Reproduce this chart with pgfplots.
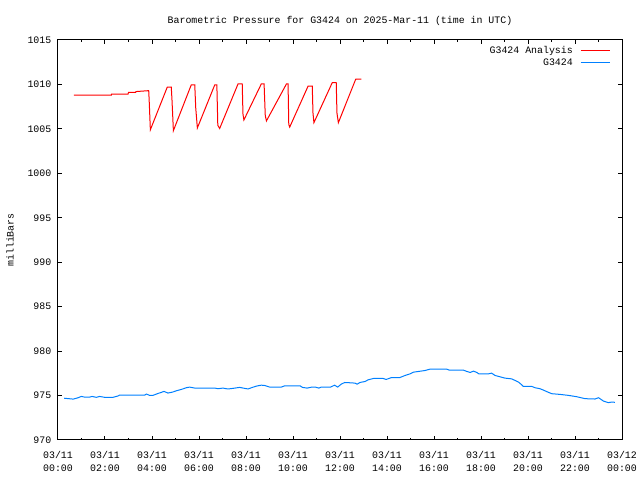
\documentclass[border=0pt]{standalone}
\usepackage{pgfplots}
\pgfplotsset{compat=1.18}
\usepackage{fontspec}
\setmainfont{Liberation Mono}
\definecolor{gred}{RGB}{255,0,0}
\definecolor{gblue}{RGB}{0,128,255}
\begin{document}
\fontsize{9.9bp}{13bp}\selectfont
\begin{tikzpicture}[every node/.style={font=\fontsize{9.9bp}{13bp}\selectfont}]
\path[use as bounding box] (-58bp,-40bp) rectangle (582bp,440bp);
\begin{axis}[
  at={(0,0)}, anchor=south west,
  scale only axis, width=564bp, height=400bp,
  xmin=0, xmax=24, ymin=970, ymax=1015,
  clip=false,
  xtick={0,2,...,24}, minor x tick num=1,
  xticklabels={{03/11\\00:00},{03/11\\02:00},{03/11\\04:00},{03/11\\06:00},{03/11\\08:00},{03/11\\10:00},{03/11\\12:00},{03/11\\14:00},{03/11\\16:00},{03/11\\18:00},{03/11\\20:00},{03/11\\22:00},{03/12\\00:00}},
  ytick={970,975,...,1015},
  yticklabels={970,975,980,985,990,995,1000,1005,1010,1015},
  xticklabel style={align=center, font=\fontsize{9.9bp}{13bp}\selectfont, yshift=-8bp},
  yticklabel style={anchor=east, inner sep=0pt, xshift=-6.5bp},
  tick align=inside, major tick length=4bp, minor tick length=2bp,
  axis line style={line width=1bp},
  every tick/.style={black, line width=1bp},
  title={Barometric Pressure for G3424 on 2025-Mar-11 (time in UTC)},
  title style={at={(axis description cs:0.5,1)}, anchor=center, yshift=13bp},
  ylabel={milliBars},
  ylabel style={at={(axis description cs:-0.0851,0.5)}, anchor=center},
]
\addplot[draw=gred, line width=1bp] coordinates {
(0.68,1008.8) (2.27,1008.8) (2.28,1008.9) (2.98,1008.9) (3.0,1009.1) (3.3,1009.1) (3.32,1009.2) (3.86,1009.3) (3.88,1008.2) (3.93,1004.9)
(4.65,1009.7) (4.82,1009.7) (4.85,1008.3) (4.91,1004.8)
(5.67,1009.95) (5.82,1009.95) (5.86,1007.4) (5.93,1005.1)
(6.67,1009.95) (6.76,1009.95) (6.80,1005.4) (6.88,1005.05)
(7.66,1010.05) (7.84,1010.05) (7.87,1006.7) (7.91,1006.0)
(8.65,1010.05) (8.77,1010.05) (8.82,1006.5) (8.87,1005.9)
(9.72,1010.05) (9.79,1010.05) (9.82,1005.5) (9.86,1005.2)
(10.64,1009.8) (10.82,1009.8) (10.85,1006.8) (10.89,1005.7)
(11.67,1010.2) (11.84,1010.2) (11.87,1006.8) (11.93,1005.7)
(12.67,1010.6) (12.91,1010.6)
};
\addplot[draw=gblue, line width=1bp] coordinates {
(0.26,974.7) (0.65,974.6) (0.85,974.75) (0.99,974.9) (1.13,974.83) (1.35,974.83) (1.45,974.9) (1.63,974.8) (1.77,974.9) (1.99,974.8) (2.34,974.8) (2.55,974.95) (2.62,975.05) (3.69,975.05) (3.76,975.17) (3.9,975.02) (4.04,975.02) (4.26,975.24) (4.4,975.36) (4.51,975.47) (4.68,975.28) (4.89,975.4) (5.04,975.54) (5.25,975.69) (5.46,975.88) (5.6,975.95) (5.82,975.84) (6.67,975.84) (6.81,975.77) (7.02,975.84) (7.23,975.74) (7.45,975.81) (7.73,975.92) (7.94,975.81) (8.09,975.74) (8.23,975.88) (8.44,976.06) (8.65,976.17) (8.8,976.13) (9.01,975.95) (9.5,975.95) (9.65,976.1) (10.3,976.1) (10.4,975.92) (10.6,975.84) (10.8,975.95) (10.95,975.95) (11.1,975.84) (11.2,975.95) (11.6,975.95) (11.77,976.17) (11.9,975.95) (12.05,976.28) (12.2,976.47) (12.35,976.45) (12.64,976.4) (12.73,976.28) (12.85,976.47) (13.06,976.58) (13.2,976.77) (13.42,976.92) (13.84,976.92) (13.96,976.81) (14.2,977.03) (14.55,977.03) (14.77,977.26) (14.98,977.44) (15.12,977.63) (15.34,977.71) (15.62,977.82) (15.83,977.97) (16.54,977.97) (16.65,977.86) (17.25,977.86) (17.4,977.71) (17.54,977.6) (17.68,977.75) (17.82,977.6) (17.91,977.44) (18.31,977.44) (18.45,977.52) (18.6,977.26) (18.81,977.11) (19.02,976.96) (19.3,976.88) (19.45,976.7) (19.6,976.51) (19.73,976.21) (19.8,976.03) (20.16,976.03) (20.3,975.88) (20.51,975.77) (20.65,975.62) (20.87,975.36) (21.01,975.21) (21.36,975.13) (21.72,975.02) (22.07,974.87) (22.43,974.65) (22.85,974.61) (23.0,974.76) (23.21,974.38) (23.42,974.2) (23.56,974.27) (23.7,974.24)
};
% legend
\node[anchor=base east, inner sep=0pt] at (axis description cs:0.9131,0.9653) {G3424 Analysis};
\node[anchor=base east, inner sep=0pt] at (axis description cs:0.9131,0.9363) {G3424};
\draw[gred, line width=1bp] (axis description cs:0.9268,0.9733) -- (axis description cs:0.9787,0.9733);
\draw[gblue, line width=1bp] (axis description cs:0.9268,0.9443) -- (axis description cs:0.9787,0.9443);
\end{axis}
\end{tikzpicture}
\end{document}
